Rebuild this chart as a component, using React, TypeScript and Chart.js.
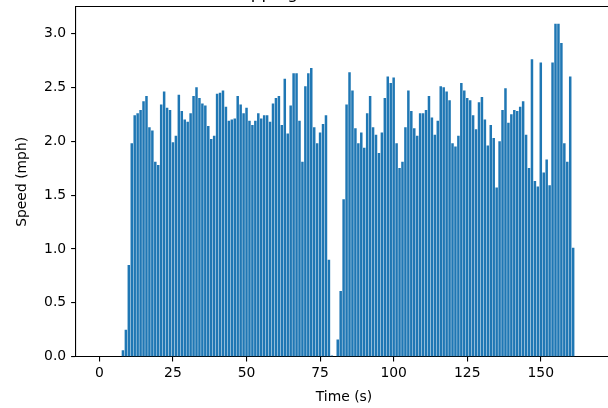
import { useEffect, useRef } from "react";
import { Chart, registerables } from "chart.js";

Chart.register(...registerables);

const TITLE = "Shopping Cart Robot Trial Run";
const X_LABEL = "Time (s)";
const Y_LABEL = "Speed (mph)";

const timeSeconds = [
  0, 1, 2, 3, 4, 5, 6, 7, 8, 9, 10, 11, 12, 13, 14, 15, 16, 17, 18, 19, 20,
  21, 22, 23, 24, 25, 26, 27, 28, 29, 30, 31, 32, 33, 34, 35, 36, 37, 38, 39, 40,
  41, 42, 43, 44, 45, 46, 47, 48, 49, 50, 51, 52, 53, 54, 55, 56, 57, 58, 59, 60,
  61, 62, 63, 64, 65, 66, 67, 68, 69, 70, 71, 72, 73, 74, 75, 76, 77, 78, 79, 80,
  81, 82, 83, 84, 85, 86, 87, 88, 89, 90, 91, 92, 93, 94, 95, 96, 97, 98, 99, 100,
  101, 102, 103, 104, 105, 106, 107, 108, 109, 110, 111, 112, 113, 114, 115, 116, 117, 118, 119, 120,
  121, 122, 123, 124, 125, 126, 127, 128, 129, 130, 131, 132, 133, 134, 135, 136, 137, 138, 139, 140,
  141, 142, 143, 144, 145, 146, 147, 148, 149, 150, 151, 152, 153, 154, 155, 156, 157, 158, 159, 160,
  161,
];

const speedMph = [
  0, 0, 0, 0, 0, 0, 0, 0,
  0.06, 0.25, 0.85, 1.98,
  2.24, 2.26, 2.29, 2.37, 2.42, 2.13, 2.1, 1.81, 1.78,
  2.34, 2.46, 2.31, 2.29, 1.99, 2.05, 2.43, 2.28, 2.2, 2.18,
  2.26, 2.42, 2.5, 2.4, 2.35, 2.33, 2.14, 2.02, 2.05, 2.44,
  2.45, 2.47, 2.32, 2.19, 2.2, 2.21, 2.42, 2.34, 2.26, 2.31,
  2.19, 2.15, 2.19, 2.26, 2.21, 2.24, 2.24, 2.18, 2.35, 2.4,
  2.42, 2.15, 2.58, 2.07, 2.33, 2.63, 2.63, 2.19, 1.81, 2.51,
  2.63, 2.68, 2.13, 1.98, 2.08, 2.16, 2.24, 0.9, 0.01, 0,
  0.16, 0.61, 1.46, 2.34, 2.64, 2.47, 2.12, 1.98, 2.08, 1.94,
  2.26, 2.42, 2.13, 2.06, 1.89, 2.08, 2.4, 2.6, 2.54, 2.59,
  1.98, 1.75, 1.81, 2.13, 2.47, 2.28, 2.12, 2.05, 2.26, 2.26,
  2.29, 2.42, 2.22, 2.06, 2.19, 2.51, 2.5, 2.46, 2.38, 1.98,
  1.95, 2.05, 2.54, 2.47, 2.4, 2.38, 2.24, 2.11, 2.36, 2.41,
  2.2, 1.96, 2.15, 2.03, 1.57, 2.0, 2.29, 2.49, 2.17, 2.25,
  2.29, 2.28, 2.32, 2.37, 2.06, 1.75, 2.76, 1.63, 1.58, 2.73,
  1.71, 1.83, 1.59, 2.73, 3.09, 3.09, 2.91, 1.98, 1.81, 2.6,
  1.01,
];

const xTickValues = [0, 25, 50, 75, 100, 125, 150];
const yTickValues = [0, 0.5, 1, 1.5, 2, 2.5, 3];

const FONT_FAMILY = '"DejaVu Sans", sans-serif';
const BAR_COLOR = "#1f77b4";
const INK = "#000000";

const titlePlugin = {
  id: "mplTitle",
  afterDraw(chart: any) {
    const { ctx, chartArea } = chart;
    ctx.save();
    ctx.font = `16.67px ${FONT_FAMILY}`;
    ctx.fillStyle = INK;
    ctx.textAlign = "center";
    ctx.textBaseline = "alphabetic";
    ctx.fillText(TITLE, (chartArea.left + chartArea.right) / 2, chartArea.top - 8.33);
    ctx.restore();
  },
};

export default function App() {
  const canvasRef = useRef<HTMLCanvasElement | null>(null);

  useEffect(() => {
    const canvas = canvasRef.current;
    if (!canvas) return;

    const tickFont = { family: FONT_FAMILY, size: 13.9 };
    const axisGrid = {
      display: true,
      drawOnChartArea: false,
      drawTicks: true,
      tickLength: 4.9,
      color: INK,
      lineWidth: 1.1,
      offset: false,
    };
    const axisBorder = { display: true, color: INK, width: 1.1 };

    const chart = new Chart(canvas, {
      type: "bar",
      data: {
        datasets: [
          {
            label: Y_LABEL,
            data: timeSeconds.map((t, i) => ({ x: t, y: speedMph[i] })),
            backgroundColor: BAR_COLOR,
            borderWidth: 0,
            barPercentage: 0.85,
            categoryPercentage: 1.0,
            xAxisID: "x",
            yAxisID: "y",
          },
        ],
      },
      options: {
        responsive: false,
        animation: false,
        events: [],
        layout: { padding: { top: 27, left: 0, right: 28, bottom: 0 } },
        plugins: {
          legend: { display: false },
          tooltip: { enabled: false },
          title: { display: false },
        },
        scales: {
          x: {
            type: "linear",
            position: "bottom",
            min: -7.95,
            max: 174.2,
            offset: false,
            afterBuildTicks: (s: any) => {
              s.ticks = xTickValues.map((v) => ({ value: v }));
            },
            afterFit: (s: any) => {
              s.height = 51.3;
            },
            ticks: {
              color: INK,
              font: tickFont,
              padding: 3.5,
              maxRotation: 0,
              autoSkip: false,
              callback: (v: any) => String(v),
            },
            grid: axisGrid,
            border: axisBorder,
            title: {
              display: true,
              text: X_LABEL,
              color: INK,
              font: tickFont,
              padding: { top: 0, bottom: 1.8 },
            },
          },
          x2: {
            type: "linear",
            position: "top",
            min: -7.95,
            max: 174.2,
            offset: false,
            ticks: { display: false },
            grid: { display: false, drawTicks: false, offset: false },
            border: axisBorder,
            afterFit: (s: any) => {
              s.height = 0;
            },
          },
          y: {
            type: "linear",
            position: "left",
            min: 0,
            max: 3.245,
            afterBuildTicks: (s: any) => {
              s.ticks = yTickValues.map((v) => ({ value: v }));
            },
            afterFit: (s: any) => {
              s.width = 76;
            },
            ticks: {
              color: INK,
              font: tickFont,
              padding: 4.9,
              callback: (v: any) => Number(v).toFixed(1),
            },
            grid: axisGrid,
            border: axisBorder,
            title: {
              display: true,
              text: Y_LABEL,
              color: INK,
              font: tickFont,
              padding: { top: 13.7, bottom: 0 },
            },
          },
        },
      },
      plugins: [titlePlugin],
    } as any);

    return () => {
      chart.destroy();
    };
  }, []);

  return (
    <div
      style={{
        position: "fixed",
        left: 0,
        top: -20,
        width: 640,
        height: 428,
        background: "#ffffff",
      }}
    >
      <canvas ref={canvasRef} width={640} height={428} style={{ display: "block" }} />
    </div>
  );
}
